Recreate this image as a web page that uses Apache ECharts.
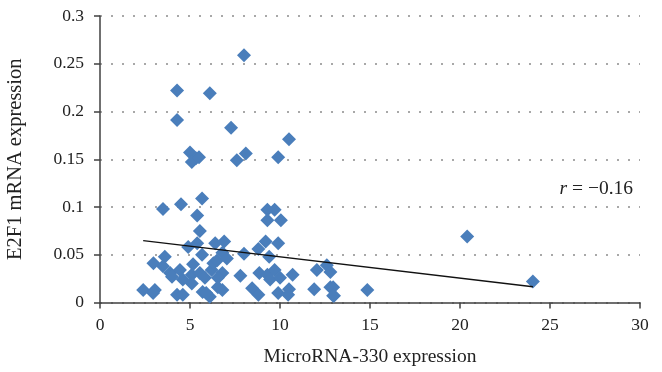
<!DOCTYPE html>
<html>
<head>
<meta charset="utf-8">
<script src="https://cdn.jsdelivr.net/npm/echarts@6/dist/echarts.min.js"></script>
<style>
  html, body { margin: 0; padding: 0; background: #fff; }
  #chart { width: 662px; height: 372px; }
</style>
</head>
<body>
<div id="chart"></div>
<script>
// MicroRNA-330 expression (x) vs E2F1 mRNA expression (y)
const mirX = [
  8.0, 4.28, 6.1, 4.28, 7.28, 10.5, 5.0, 5.33, 5.1, 5.5, 7.6, 8.1, 9.9,
  3.5, 4.5, 5.67, 5.4, 5.55, 9.3, 9.7, 9.3, 10.05,
  4.9, 5.4, 5.67, 6.4, 6.9, 2.97, 3.6, 3.5, 3.9, 4.44, 4.0, 4.6,
  5.17, 5.1, 5.55, 5.83, 6.2, 6.3, 6.5, 6.8, 7.05, 6.8, 6.55, 5.1,
  2.4, 3.05, 2.95, 4.28, 4.6, 5.7, 6.1, 5.9, 6.55, 6.8,
  7.8, 8.0, 8.8, 9.2, 9.9, 9.4, 8.85, 9.3, 9.7, 9.45, 10.0, 10.7,
  8.45, 8.8, 9.9, 10.5, 10.45,
  12.05, 12.6, 12.8, 11.9, 12.8, 13.0, 12.95, 12.95, 14.85, 20.4, 24.05
];
const e2f1Y = [
  0.259, 0.222, 0.219, 0.191, 0.183, 0.171, 0.157, 0.151, 0.147, 0.152, 0.149, 0.156, 0.152,
  0.098, 0.103, 0.109, 0.091, 0.075, 0.097, 0.097, 0.086, 0.086,
  0.058, 0.062, 0.050, 0.062, 0.064, 0.041, 0.048, 0.038, 0.031, 0.034, 0.027, 0.024,
  0.040, 0.029, 0.031, 0.026, 0.034, 0.041, 0.044, 0.052, 0.046, 0.031, 0.026, 0.020,
  0.013, 0.013, 0.010, 0.008, 0.008, 0.011, 0.006, 0.010, 0.016, 0.013,
  0.028, 0.051, 0.056, 0.064, 0.062, 0.048, 0.031, 0.029, 0.034, 0.024, 0.026, 0.029,
  0.015, 0.008, 0.010, 0.014, 0.008,
  0.034, 0.039, 0.032, 0.014, 0.016, 0.007, 0.016, 0.007, 0.013, 0.069, 0.022
];

// trend line end points
const trendX = [2.4, 24.05];
const trendY = [0.0647, 0.0165];

const corrText = '−0.16';

const serif = '"Liberation Serif", "DejaVu Serif", serif';
const axisColor = '#404040';

const chart = echarts.init(document.getElementById('chart'));

chart.setOption({
  animation: false,
  grid: { left: 100, right: 22, top: 16, bottom: 69.5, outerBoundsMode: 'none', containLabel: false },
  xAxis: {
    type: 'value',
    min: 0,
    max: 30,
    interval: 5,
    name: 'MicroRNA-330 expression',
    nameLocation: 'middle',
    nameGap: 44,
    nameTextStyle: { fontFamily: serif, fontSize: 19.5, color: '#222' },
    axisLine: { show: true, lineStyle: { color: axisColor, width: 1.5 } },
    axisTick: { show: true, length: 6, inside: false, lineStyle: { color: axisColor, width: 1.5 } },
    axisLabel: { fontFamily: serif, fontSize: 17.5, color: '#222', margin: 14 },
    splitLine: { show: false }
  },
  yAxis: {
    type: 'value',
    min: 0,
    max: 0.3,
    interval: 0.05,
    name: 'E2F1 mRNA expression',
    nameLocation: 'middle',
    nameGap: 74,
    nameTextStyle: { fontFamily: serif, fontSize: 20.5, color: '#222' },
    axisLine: { show: true, lineStyle: { color: axisColor, width: 1.5 } },
    axisTick: { show: true, length: 6, inside: false, lineStyle: { color: axisColor, width: 1.5 } },
    axisLabel: { fontFamily: serif, fontSize: 17.5, color: '#222', margin: 16 },
    splitLine: { show: true, lineStyle: { color: '#8c8c8c', type: [2, 9], width: 1.5 } }
  },
  series: [
    {
      type: 'scatter',
      symbol: 'diamond',
      symbolSize: 14,
      itemStyle: { color: '#4a7ebb', opacity: 1 },
      data: mirX.map((x, i) => [x, e2f1Y[i]]),
      z: 2
    },
    {
      type: 'line',
      data: trendX.map((x, i) => [x, trendY[i]]),
      symbol: 'none',
      lineStyle: { color: '#111', width: 1.3 },
      z: 3
    }
  ],
  graphic: [
    {
      type: 'text',
      right: 29,
      top: 179,
      style: {
        text: '{i|r} = ' + corrText,
        font: '19.5px ' + serif,
        fill: '#222',
        rich: {
          i: { fontFamily: serif, fontSize: 19.5, fontStyle: 'italic', fill: '#222' }
        }
      }
    }
  ]
});
</script>
</body>
</html>
